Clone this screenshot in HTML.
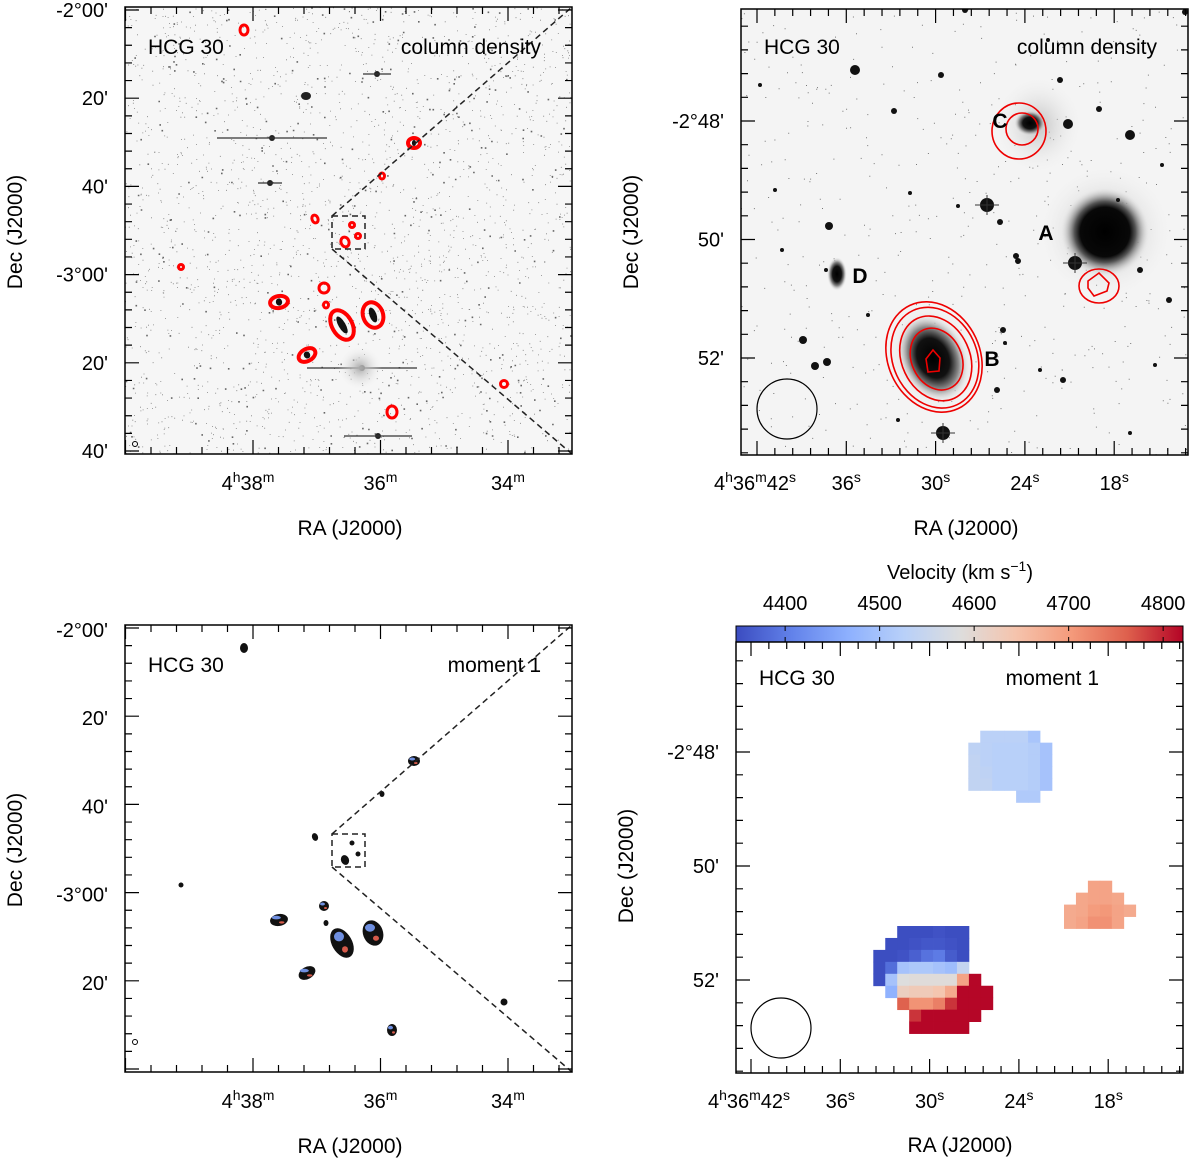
<!DOCTYPE html>
<html><head><meta charset="utf-8">
<style>
html,body{margin:0;padding:0;background:#fff;}
svg{display:block;font-family:"Liberation Sans",Arial,sans-serif;}
</style></head>
<body>
<svg id="fig" width="1200" height="1163" viewBox="0 0 1200 1163" xmlns="http://www.w3.org/2000/svg">
<defs>
  <radialGradient id="gA" cx="50%" cy="50%" r="50%">
    <stop offset="0" stop-color="#000"/><stop offset="0.55" stop-color="#080808"/><stop offset="0.68" stop-color="#555"/><stop offset="1" stop-color="#f4f4f4" stop-opacity="0"/>
  </radialGradient>
  <radialGradient id="gB" cx="50%" cy="50%" r="50%">
    <stop offset="0" stop-color="#000"/><stop offset="0.45" stop-color="#111"/><stop offset="0.7" stop-color="#888"/><stop offset="1" stop-color="#f4f4f4" stop-opacity="0"/>
  </radialGradient>
  <radialGradient id="gHalo" cx="50%" cy="50%" r="50%">
    <stop offset="0" stop-color="#aaa"/><stop offset="1" stop-color="#f4f4f4" stop-opacity="0"/>
  </radialGradient>
  <linearGradient id="cbar" x1="0" x2="1" y1="0" y2="0">
    <stop offset="0" stop-color="rgb(59,76,192)"/>
    <stop offset="0.125" stop-color="rgb(98,130,234)"/>
    <stop offset="0.25" stop-color="rgb(141,176,254)"/>
    <stop offset="0.375" stop-color="rgb(184,208,249)"/>
    <stop offset="0.5" stop-color="rgb(221,221,221)"/>
    <stop offset="0.625" stop-color="rgb(245,196,173)"/>
    <stop offset="0.75" stop-color="rgb(244,154,123)"/>
    <stop offset="0.875" stop-color="rgb(222,96,77)"/>
    <stop offset="1" stop-color="rgb(180,4,38)"/>
  </linearGradient>
  <clipPath id="cTL"><rect x="125" y="7" width="447" height="447"/></clipPath>
  <clipPath id="cTR"><rect x="741" y="9" width="447" height="446"/></clipPath>
</defs>
<g id="tl"></g>
<g id="tr"></g>
<g id="bl"></g>
<g id="br"></g>
</svg>
<script>
// ---------- data ----------
const wideSrcX = [244,414,382,315,352,358,345,181,324,279,326,342,373,307,504,392];
const wideSrcY = [30,143,176,219,225,236,242,267,288,302,305,325,315,355,384,412];
const wideSrcRx = [4,6,2.5,3,2.5,2.5,4,2.5,5,9,2.5,10,10,9,3.5,5];
const wideSrcRy = [5,5,3,4,2.5,2.5,5,2.5,5,6,3,16,13,6,3.5,6];
const wideSrcRot = [0,0,0,-20,0,0,-20,0,0,-10,0,-30,-20,-30,0,0];
const tlDecLabels = ["-2°00'","20'","40'","-3°00'","20'","40'"];
const tlRaLabels = [["4","h","38","m"],["36","m"],["34","m"]];
const trDecLabels = ["-2°48'","50'","52'"];
const trRaLabels = [["4","h","36","m","42","s"],["36","s"],["30","s"],["24","s"],["18","s"]];
const cbarTicks = [4400,4500,4600,4700,4800];
const velB = [
 [null,null,4350,4350,4350,4355,4350,4350,null,null],
 [null,4350,4350,4355,4360,4360,4355,4350,null,null],
 [4350,4350,4355,4370,4390,4400,4365,4350,null,null],
 [4350,4385,4500,4510,4510,4500,4490,4545,null,null],
 [4350,4500,4585,4590,4590,4590,4590,4690,4820,null],
 [null,4470,4620,4630,4630,4640,4680,4820,4820,4820],
 [null,null,4760,4710,4710,4730,4790,4820,4820,4820],
 [null,null,null,4790,4820,4820,4820,4820,4820,null],
 [null,null,null,4820,4820,4820,4820,4820,null,null]];
const velC = [
 [null,4530,4530,4530,4530,4505,null],
 [4535,4530,4525,4525,4525,4520,4500],
 [4540,4530,4525,4525,4525,4520,4500],
 [4540,4535,4525,4525,4525,4520,4500],
 [4540,4540,4525,4525,4525,4520,4500],
 [null,null,null,null,4515,4515,null]];
const velA = [
 [null,null,4690,4690,null,null],
 [null,4685,4690,4690,4685,null],
 [4680,4685,4700,4705,4690,4680],
 [4680,4690,4712,4712,4690,null]];

// ---------- helpers ----------
const NS="http://www.w3.org/2000/svg";
function mk(parent,tag,attrs){const e=document.createElementNS(NS,tag);for(const k in attrs)e.setAttribute(k,attrs[k]);parent.appendChild(e);return e;}
function txt(parent,x,y,s,size,anchor,extra){const t=mk(parent,'text',Object.assign({x:x,y:y,'font-size':size,'text-anchor':anchor||'middle',fill:'#000'},extra||{}));t.textContent=s;return t;}
function supLabel(parent,x,y,parts,name){
  const t=mk(parent,'text',{x:x,y:y,'font-size':20,'text-anchor':'middle',fill:'#000'});
  
  
  parts.forEach((p,i)=>{const s=mk(t,'tspan',{});s.textContent=p;if(i%2===1){s.setAttribute('font-size',14);s.setAttribute('dy',-8);}else if(i>0){s.setAttribute('dy',8);}});
  return t;
}
const stops=[[59,76,192],[98,130,234],[141,176,254],[184,208,249],[221,221,221],[245,196,173],[244,154,123],[222,96,77],[180,4,38]];
const VMIN=4348,VMAX=4821;
function cmap(v){let t=(v-VMIN)/(VMAX-VMIN);t=Math.max(0,Math.min(1,t));const f=t*8;const i=Math.min(7,Math.floor(f));const r=f-i;const a=stops[i],b=stops[i+1];return 'rgb('+a.map((c,k)=>Math.round(c+(b[k]-c)*r)).join(',')+')';}
let seed=7;function rnd(){seed=(seed*16807)%2147483647;return seed/2147483647;}

function frameTicks(g,x0,y0,w,h,xMaj,xStep,xMinStep,yMaj,yStep,yMinStep,name){
  mk(g,'rect',{x:x0,y:y0,width:w,height:h,fill:'none',stroke:'#000','stroke-width':1.5,});
  let p='';
  for(let x=xMaj-Math.ceil((xMaj-x0)/xMinStep)*xMinStep;x<=x0+w;x+=xMinStep){ if(x<x0)continue;
    const major=Math.abs(((x-xMaj)/xStep)-Math.round((x-xMaj)/xStep))<0.05; const L=major?14:7;
    p+=`M${x},${y0+h}v${-L}M${x},${y0}v${L}`;}
  for(let y=yMaj-Math.ceil((yMaj-y0)/yMinStep)*yMinStep;y<=y0+h;y+=yMinStep){ if(y<y0)continue;
    const major=Math.abs(((y-yMaj)/yStep)-Math.round((y-yMaj)/yStep))<0.05; const L=major?14:7;
    p+=`M${x0},${y}h${L}M${x0+w},${y}h${-L}`;}
  mk(g,'path',{d:p,stroke:'#000','stroke-width':1.2,fill:'none',});
}

// ---------- wide panels ----------
function widePanel(g,off,isMom){
  const bg=mk(g,'g',{'clip-path':'url(#cTL)',transform:`translate(0,${off})`});
  
  
  if(!isMom){
    mk(bg,'rect',{x:125,y:7,width:447,height:447,fill:'#f6f6f6'});
    let d='';seed=7;
    for(let i=0;i<2600;i++){const x=125+rnd()*447,y=7+rnd()*447,s=rnd()<0.85?0.8:1.6;d+=`M${x.toFixed(1)},${y.toFixed(1)}h${s}v${s}h${-s}z`;}
    mk(bg,'path',{d:d,fill:'#444','fill-opacity':0.8});
    [[272,138,55],[377,74,14],[270,183,12],[362,368,55],[378,436,34]].forEach(s=>{mk(bg,'circle',{cx:s[0],cy:s[1],r:3,fill:'#222'});mk(bg,'path',{d:`M${s[0]-s[2]},${s[1]}h${s[2]*2}`,stroke:'#333','stroke-width':1.2});});
    mk(bg,'circle',{cx:360,cy:368,r:22,fill:'url(#gHalo)'});
    mk(bg,'ellipse',{cx:306,cy:96,rx:5,ry:4,fill:'#222'});
  }
  const src=mk(bg,'g',{});
  
  
  wideSrcX.forEach((x,i)=>{
    const e=mk(src,'ellipse',{cx:x,cy:wideSrcY[i],rx:wideSrcRx[i],ry:wideSrcRy[i],transform:`rotate(${wideSrcRot[i]},${x},${wideSrcY[i]})`});
    
    
    if(isMom){e.setAttribute('fill','#111');
      if(wideSrcRx[i]>4){mk(src,'ellipse',{cx:x-wideSrcRx[i]*0.3,cy:wideSrcY[i]-wideSrcRy[i]*0.4,rx:wideSrcRx[i]*0.5,ry:wideSrcRy[i]*0.3,fill:'#6f8fe0'});
        mk(src,'ellipse',{cx:x+wideSrcRx[i]*0.3,cy:wideSrcY[i]+wideSrcRy[i]*0.4,rx:wideSrcRx[i]*0.3,ry:wideSrcRy[i]*0.2,fill:'#d65a4a'});}
    } else {e.setAttribute('fill','none');e.setAttribute('stroke','#f00');e.setAttribute('stroke-width',wideSrcRx[i]>5?4:3);
      if(wideSrcRx[i]>5)mk(src,'ellipse',{cx:x,cy:wideSrcY[i],rx:wideSrcRx[i]*0.35,ry:wideSrcRy[i]*0.6,fill:'#111',transform:`rotate(${wideSrcRot[i]},${x},${wideSrcY[i]})`});}
  });
  const zb=mk(bg,'path',{d:'M332,216h33v33h-33zM332,216L572,7M332,249L572,454',fill:'none',stroke:'#222','stroke-width':1.5,'stroke-dasharray':'6,4'});
  
  
  mk(bg,'circle',{cx:135,cy:444+(isMom?-20:0),r:2.5,fill:'none',stroke:'#000','stroke-width':1});
  const fr=mk(g,'g',{transform:`translate(0,${off})`});
  frameTicks(fr,125,7,447,447,253,127.5,25.5,10,88.2,17.64,isMom?'bl':'tl');
  txt(fr,148,54,'HCG 30',21,'start',{});
  txt(fr,541,54,isMom?'moment 1':'column density',21,'end',{});
  tlDecLabels.forEach((s,i)=>{if(isMom&&i==5)return;txt(fr,108,10+88.2*i+7+(isMom?2:0),s,20,'end',{});});
  tlRaLabels.forEach((p,i)=>supLabel(fr,253+127.5*i+(i==0?-5:0),490,p,'ra-tick-label'));
  txt(fr,350,535,'RA (J2000)',21,'middle',{});
  txt(fr,0,0,'Dec (J2000)',21,'middle',{transform:`translate(22,232) rotate(-90)`,});
}
widePanel(document.getElementById('tl'),0,false);
widePanel(document.getElementById('bl'),618,true);

// ---------- zoom optical panel ----------
(function(){
  const g=document.getElementById('tr');
  const bg=mk(g,'g',{'clip-path':'url(#cTR)'});
  
  
  mk(bg,'rect',{x:741,y:9,width:447,height:446,fill:'#f4f4f4'});
  let d='';seed=11;
  for(let i=0;i<500;i++){const x=741+rnd()*447,y=9+rnd()*446;d+=`M${x.toFixed(1)},${y.toFixed(1)}h1v1h-1z`;}
  mk(bg,'path',{d:d,fill:'#777'});
  mk(bg,'ellipse',{cx:1038,cy:125,rx:45,ry:50,fill:'url(#gHalo)','fill-opacity':0.7});
  mk(bg,'circle',{cx:1105,cy:232,r:68,fill:'url(#gHalo)'});
  mk(bg,'circle',{cx:1105,cy:232,r:45,fill:'url(#gA)'});
  mk(bg,'ellipse',{cx:933,cy:358,rx:48,ry:62,fill:'url(#gHalo)',transform:'rotate(-25,933,358)'});
  mk(bg,'ellipse',{cx:933,cy:358,rx:34,ry:46,fill:'url(#gB)',transform:'rotate(-25,933,358)'});
  mk(bg,'ellipse',{cx:837,cy:274,rx:10,ry:17,fill:'url(#gB)'});
  mk(bg,'ellipse',{cx:1030,cy:123,rx:16,ry:13,fill:'url(#gB)'});
  const stars=[[987,205,7],[1075,263,7],[943,433,7],[855,70,5],[894,111,3],[941,75,3],[1068,124,5],[1130,135,5],[829,226,4],[803,340,4],[815,366,4],[827,362,4],[1185,12,3],[965,10,3],[1000,222,3],[1018,261,3],[1003,330,3],[1016,256,3],[1140,270,3],[1169,300,3],[1060,80,3],[1099,109,3],[775,190,2],[760,85,2],[1162,165,2],[1196,198,2],[997,390,3],[1040,370,2],[1063,380,3],[1118,200,2],[1005,343,2],[898,420,2],[868,315,2],[958,206,2],[1130,433,2],[826,270,2],[910,193,2],[782,250,2],[1155,365,2],[1048,40,2]];
  stars.forEach(s=>{const c=mk(bg,'circle',{cx:s[0],cy:s[1],r:s[2],fill:'#111'});
    
    
    if(s[2]>=7)mk(bg,'path',{d:`M${s[0]-12},${s[1]}h24M${s[0]},${s[1]-10}v20`,stroke:'#333','stroke-width':1});});
  const cont=mk(bg,'g',{fill:'none',stroke:'#e00','stroke-width':1.6});
  
  
  [[46,57],[42,52],[34,44],[25,32]].forEach((r,i)=>mk(cont,'ellipse',{cx:934+i*0.5,cy:357+i,rx:r[0],ry:r[1],transform:'rotate(-25,934,357)'}));
  mk(cont,'path',{d:'M933,350l7,8l-1,13l-11,1l-2,-13z'});
  mk(cont,'ellipse',{cx:1019,cy:131,rx:27,ry:28});
  mk(cont,'ellipse',{cx:1022,cy:129,rx:16,ry:16});
  mk(cont,'ellipse',{cx:1099,cy:286,rx:20,ry:17});
  mk(cont,'path',{d:'M1088,281l11,-8l10,10l-2,8l-13,5l-6,-8z'});
  mk(g,'circle',{cx:787,cy:409,r:30,fill:'none',stroke:'#000','stroke-width':1.2,});
  [['C',1000,128],['A',1046,240],['D',860,283],['B',992,366]].forEach(l=>txt(g,l[1],l[2],l[0],21,'middle',{'font-weight':'bold',}));
  frameTicks(g,741,9,447,446,757,89.3,17.86,121,118.5,23.7,'tr');
  txt(g,764,54,'HCG 30',21,'start',{});
  txt(g,1157,54,'column density',21,'end',{});
  trDecLabels.forEach((s,i)=>txt(g,724,121+118.5*i+7,s,20,'end',{}));
  trRaLabels.forEach((p,i)=>supLabel(g,757+89.3*i+(i==0?-2:0),490,p,'ra-tick-label'));
  txt(g,966,535,'RA (J2000)',21,'middle',{});
  txt(g,0,0,'Dec (J2000)',21,'middle',{transform:`translate(638,232) rotate(-90)`,});
})();

// ---------- zoom velocity panel ----------
(function(){
  const g=document.getElementById('br');
  const X0=736,W=447,Y0=642,H=431;
  const cb=mk(g,'rect',{x:X0,y:626,width:W,height:16,fill:'url(#cbar)',stroke:'#000','stroke-width':1});
  
  
  const vx=v=>X0+(v-VMIN)/(VMAX-VMIN)*W;
  cbarTicks.forEach(v=>{mk(g,'path',{d:`M${vx(v)},626v5M${vx(v)},642v-5`,stroke:'#000','stroke-width':1});
    txt(g,vx(v),610,String(v),20,'middle',{});});
  const tt=txt(g,960,579,'Velocity (km s',20,'middle',{});
  const s1=mk(tt,'tspan',{'font-size':14,dy:-8});s1.textContent='−1';
  const s2=mk(tt,'tspan',{dy:8});s2.textContent=')';
  const CELL=11.95;
  function grid(arr,ox,oy,name){
    const gg=mk(g,'g',{});
    
    
    arr.forEach((row,r)=>row.forEach((v,c)=>{if(v===null)return;
      const e=mk(gg,'rect',{x:(ox+c*CELL).toFixed(2),y:(oy+r*CELL).toFixed(2),width:CELL+0.4,height:CELL+0.4,fill:cmap(v)});
      
      }));
  }
  grid(velC,968.3,730.7,'velocity-field-c');
  grid(velA,1064,880.7,'velocity-field-a');
  grid(velB,873.3,926,'velocity-field-b');
  mk(g,'circle',{cx:781,cy:1028,r:30,fill:'none',stroke:'#000','stroke-width':1.2,});
  frameTicks(g,X0,Y0,W,H,751,89.3,17.86,752,114,22.8,'br');
  txt(g,759,685,'HCG 30',21,'start',{});
  txt(g,1099,685,'moment 1',21,'end',{});
  trDecLabels.forEach((s,i)=>txt(g,719,752+114*i+7,s,20,'end',{}));
  trRaLabels.forEach((p,i)=>supLabel(g,751+89.3*i+(i==0?-2:0),1108,p,'ra-tick-label'));
  txt(g,960,1152,'RA (J2000)',21,'middle',{});
  txt(g,0,0,'Dec (J2000)',21,'middle',{transform:`translate(633,866) rotate(-90)`,});
})();
</script>
</body></html>
